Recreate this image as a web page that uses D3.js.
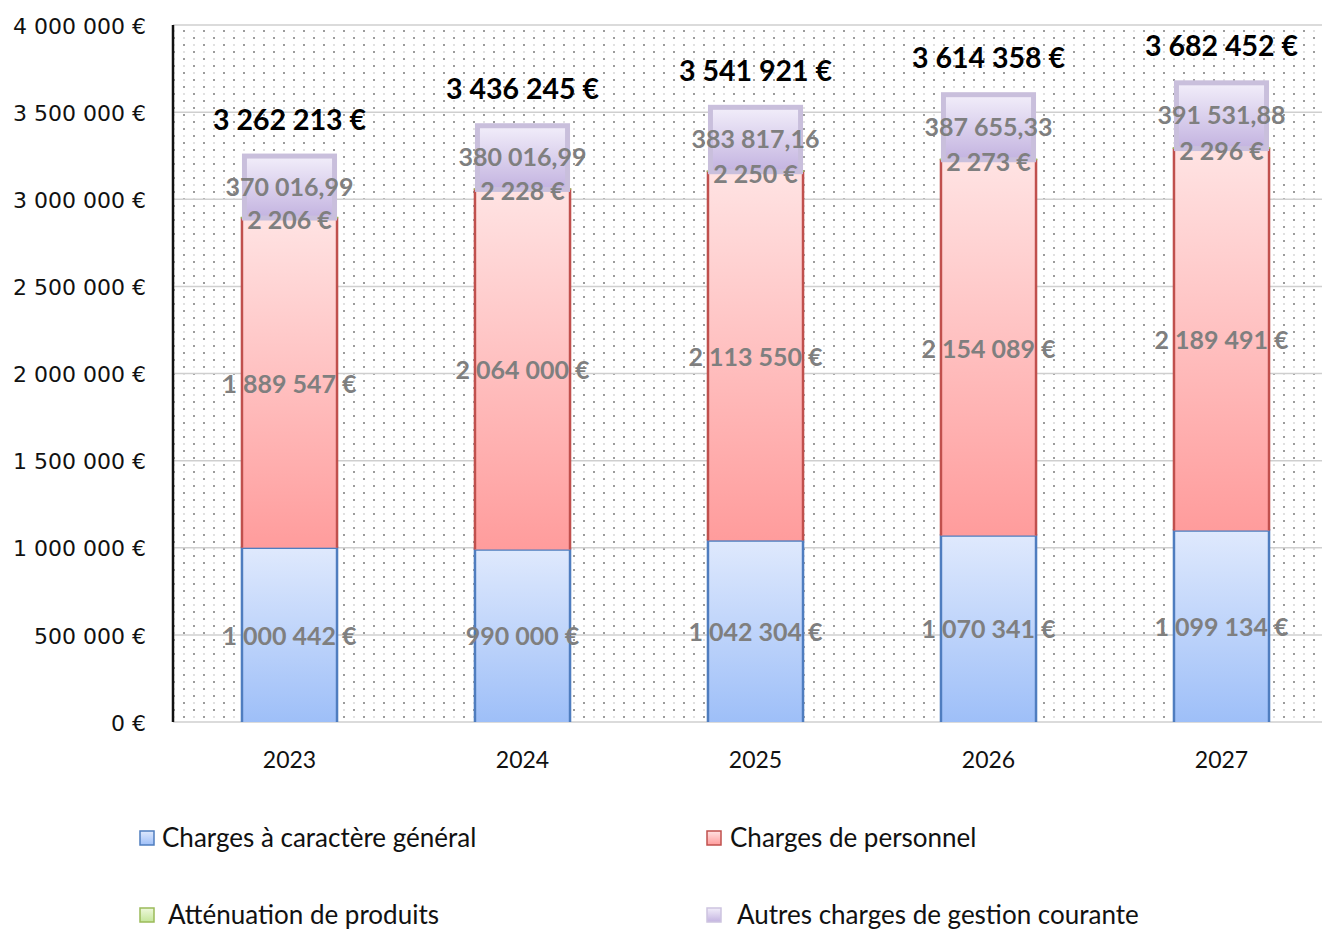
<!DOCTYPE html>
<html>
<head>
<meta charset="utf-8">
<script src="https://cdn.jsdelivr.net/npm/d3@7"></script>
<style>
  body { margin: 0; background: #fff; }
  svg { display: block; }
  .tick-y { font-family: "DejaVu Sans", sans-serif; font-size: 22px; fill: #111; }
  .tick-x { font-family: Lato, sans-serif; font-size: 23px; fill: #111; }
  .seg-label { font-family: Lato, sans-serif; font-weight: bold; font-size: 25px; fill: #7f7f7f; }
  .total-label { font-family: Lato, sans-serif; font-weight: bold; font-size: 28.5px; fill: #000; }
  .legend text { font-family: Lato, sans-serif; font-size: 26px; fill: #111; }
</style>
</head>
<body>
<svg width="1322" height="929"></svg>
<script>
const width = 1322;
const height = 929;

const years = ['2023', '2024', '2025', '2026', '2027'];
const chargesGeneral = [1000442, 990000, 1042304, 1070341, 1099134];
const chargesPersonnel = [1889547, 2064000, 2113550, 2154089, 2189491];
const attenuation = [2206, 2228, 2250, 2273, 2296];
const autresCharges = [370016.99, 380016.99, 383817.16, 387655.33, 391531.88];
const totals = [3262213, 3436245, 3541921, 3614358, 3682452];
const yTicks = [0, 500000, 1000000, 1500000, 2000000, 2500000, 3000000, 3500000, 4000000];

const seriesNames = ['Charges à caractère général', 'Charges de personnel', 'Atténuation de produits', 'Autres charges de gestion courante'];
const seriesKeys = ['general', 'personnel', 'attenuation', 'autres'];

const svg = d3.select('svg');

const fr = d3.formatLocale({ decimal: ',', thousands: '\u00a0', grouping: [3], currency: ['', '\u00a0€'] });
const fmtEuro = fr.format('$,.0f');
const fmtDec = fr.format(',.2f');

const margin = { top: 25, left: 173, bottom: 207 };
const plotRight = 1338;
const innerHeight = height - margin.top - margin.bottom;

const data = years.map((y, i) => ({
    year: y,
    general: chargesGeneral[i],
    personnel: chargesPersonnel[i],
    attenuation: attenuation[i],
    autres: autresCharges[i],
    total: totals[i]
}));

const stack = d3.stack().keys(seriesKeys)(data);

const xScale = d3.scaleBand()
    .domain(years)
    .range([margin.left, plotRight])
    .paddingInner(0.592)
    .paddingOuter(0.296);

const yScale = d3.scaleLinear()
    .domain([0, 4000000])
    .range([margin.top + innerHeight, margin.top]);

const defs = svg.append('defs');

// dotted background
const pat = defs.append('pattern')
    .attr('id', 'dots')
    .attr('patternUnits', 'userSpaceOnUse')
    .attr('width', 20).attr('height', 14);
pat.append('circle').attr('cx', 4).attr('cy', 3).attr('r', 1).attr('fill', '#7a7a7a');
pat.append('circle').attr('cx', 14).attr('cy', 10).attr('r', 1).attr('fill', '#7a7a7a');
pat.append('circle').attr('cx', 14).attr('cy', 3).attr('r', 0.7).attr('fill', '#aaaaaa');
pat.append('circle').attr('cx', 4).attr('cy', 10).attr('r', 0.7).attr('fill', '#aaaaaa');

const grads = {
    general: ['#dfe9fd', '#9ebff8'],
    personnel: ['#ffe3e3', '#ff9c9c'],
    attenuation: ['#eef8dc', '#c4e59a'],
    autres: ['#f2eefa', '#c3b3e0']
};
Object.keys(grads).forEach(k => {
    const g = defs.append('linearGradient')
        .attr('id', 'grad-' + k)
        .attr('x1', 0).attr('y1', 0).attr('x2', 0).attr('y2', 1);
    g.append('stop').attr('offset', '0%').attr('stop-color', grads[k][0]);
    g.append('stop').attr('offset', '100%').attr('stop-color', grads[k][1]);
});

const strokes = {
    general: '#4f7dbf',
    personnel: '#c0504d',
    attenuation: '#9bbb59',
    autres: '#c9bfdc'
};

svg.append('rect')
    .attr('x', margin.left).attr('y', margin.top)
    .attr('width', width - margin.left).attr('height', innerHeight)
    .attr('fill', 'url(#dots)');

// grid
svg.append('g')
    .selectAll('line')
    .data(yTicks)
    .enter()
    .append('line')
    .attr('x1', margin.left).attr('x2', width)
    .attr('y1', d => yScale(d)).attr('y2', d => yScale(d))
    .attr('stroke', '#cfcfcf')
    .attr('stroke-width', 1.5);

// y labels
svg.append('g')
    .selectAll('text')
    .data(yTicks)
    .enter()
    .append('text')
    .attr('class', 'tick-y')
    .attr('x', margin.left - 27)
    .attr('y', d => yScale(d) + 1)
    .attr('dy', '0.35em')
    .attr('text-anchor', 'end')
    .text(d => fmtEuro(d));

// x labels
svg.append('g')
    .selectAll('text')
    .data(years)
    .enter()
    .append('text')
    .attr('class', 'tick-x')
    .attr('x', d => xScale(d) + xScale.bandwidth() / 2)
    .attr('y', yScale(0) + 38)
    .attr('dy', '0.35em')
    .attr('text-anchor', 'middle')
    .text(d => d);

// bars
const bw = xScale.bandwidth();
stack.forEach(layer => {
    const key = layer.key;
    const g = svg.append('g');
    layer.forEach((d, i) => {
        const x = xScale(years[i]);
        const y0 = yScale(d[1]);
        const y1 = yScale(d[0]);
        if (key === 'autres') {
            g.append('rect')
                .attr('x', x + 2.5).attr('y', y0 + 2.5)
                .attr('width', bw - 5).attr('height', Math.max(0, y1 - y0 - 2.5))
                .attr('fill', 'url(#grad-autres)')
                .attr('stroke', strokes.autres)
                .attr('stroke-width', 5);
        } else {
            g.append('rect')
                .attr('x', x).attr('y', y0)
                .attr('width', bw).attr('height', y1 - y0)
                .attr('fill', 'url(#grad-' + key + ')');
            g.append('path')
                .attr('d', `M${x},${y1}V${y0}H${x + bw}V${y1}`)
                .attr('fill', 'none')
                .attr('stroke', strokes[key])
                .attr('stroke-width', 2.5);
        }
    });
});

// y axis line
svg.append('line')
    .attr('x1', margin.left).attr('x2', margin.left)
    .attr('y1', margin.top).attr('y2', yScale(0))
    .attr('stroke', '#111').attr('stroke-width', 2.5);

// segment labels
stack.forEach(layer => {
    const key = layer.key;
    svg.append('g')
        .selectAll('text')
        .data(layer)
        .enter()
        .append('text')
        .attr('class', 'seg-label')
        .attr('x', (d, i) => xScale(years[i]) + bw / 2)
        .attr('y', d => yScale((d[0] + d[1]) / 2) + (key === 'attenuation' ? 2 : 1))
        .attr('dy', '0.35em')
        .attr('text-anchor', 'middle')
        .text(d => key === 'autres' ? fmtDec(d.data.autres) : fmtEuro(d.data[key]));
});

// totals
svg.append('g')
    .selectAll('text')
    .data(data)
    .enter()
    .append('text')
    .attr('class', 'total-label')
    .attr('x', d => xScale(d.year) + bw / 2)
    .attr('y', d => yScale(d.total) - 34)
    .attr('dy', '0.35em')
    .attr('text-anchor', 'middle')
    .text(d => fmtEuro(d.total));

// legend
const legendPos = [
    { x: 140, y: 838, tx: 162 },
    { x: 707, y: 838, tx: 730 },
    { x: 140, y: 915, tx: 168 },
    { x: 707, y: 915, tx: 737 }
];
const legend = svg.append('g').attr('class', 'legend');
seriesKeys.forEach((k, i) => {
    const p = legendPos[i];
    legend.append('rect')
        .attr('x', p.x).attr('y', p.y - 7)
        .attr('width', 14).attr('height', 14)
        .attr('fill', 'url(#grad-' + k + ')')
        .attr('stroke', k === 'autres' ? '#cdc4e0' : strokes[k])
        .attr('stroke-width', 1.5);
    legend.append('text')
        .attr('x', p.tx).attr('y', p.y)
        .attr('dy', '0.35em')
        .text(seriesNames[i]);
});
</script>
</body>
</html>
